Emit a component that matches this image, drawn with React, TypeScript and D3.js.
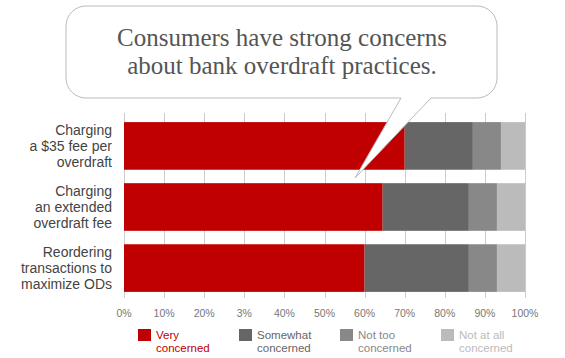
import React, { useEffect, useRef } from 'react';
import * as d3 from 'd3';

// categories (each label split in lines)
const categories = ['Charging a $35 fee per overdraft', 'Charging an extended overdraft fee', 'Reordering transactions to maximize ODs'];
const categoryLines = [
  ['Charging', 'a $35 fee per', 'overdraft'],
  ['Charging', 'an extended', 'overdraft fee'],
  ['Reordering', 'transactions to', 'maximize ODs'],
];

// series values in percent
const veryConcerned = [70, 64.5, 60];
const somewhatConcerned = [17, 21.5, 26];
const notTooConcerned = [7, 7, 7];
const notAtAllConcerned = [6, 7, 7];

const seriesNames = ['Very concerned', 'Somewhat concerned', 'Not too concerned', 'Not at all concerned'];
const legendLines = [['Very', 'concerned'], ['Somewhat', 'concerned'], ['Not too', 'concerned'], ['Not at all', 'concerned']];
const tickValues = [0, 10, 20, 30, 40, 50, 60, 70, 80, 90, 100];
const tickLabels = ['0%', '10%', '20%', '3%', '40%', '50%', '60%', '70%', '80%', '90%', '100%'];
const titleLines = ['Consumers have strong concerns', 'about bank overdraft practices.'];

const colors = ['#c00000', '#666666', '#888888', '#bbbbbb'];
const legendTextColors = ['#c00000', '#666666', '#888888', '#bbbbbb'];

export default function App() {
  const ref = useRef<SVGSVGElement>(null);

  useEffect(() => {
    const width = 565;
    const height = 358;
    const svg = d3.select(ref.current);
    svg.selectAll('*').remove();

    const x = d3.scaleLinear().domain([0, 100]).range([124, 525]);
    const y = d3.scaleBand().domain(categories).range([116, 298]).paddingInner(0.22).paddingOuter(0.1);

    // table for stacking
    const rows = categories.map((c, i) => ({
      cat: c,
      [seriesNames[0]]: veryConcerned[i],
      [seriesNames[1]]: somewhatConcerned[i],
      [seriesNames[2]]: notTooConcerned[i],
      [seriesNames[3]]: notAtAllConcerned[i],
    }));
    const stacked = d3.stack<any>().keys(seriesNames)(rows);

    // grid lines + ticks
    svg.append('g')
      .selectAll('line')
      .data(tickValues)
      .enter()
      .append('line')
      .attr('x1', (d) => Math.round(x(d)) + 0.5)
      .attr('x2', (d) => Math.round(x(d)) + 0.5)
      .attr('y1', 113)
      .attr('y2', 298)
      .attr('stroke', '#cccccc')
      .attr('stroke-width', 1);

    // bars
    const groups = svg.append('g')
      .selectAll('g')
      .data(stacked)
      .enter()
      .append('g')
      .attr('fill', (d, i) => colors[i]);
    groups.selectAll('rect')
      .data((d) => d)
      .enter()
      .append('rect')
      .attr('x', (d) => x(d[0]))
      .attr('width', (d) => x(d[1]) - x(d[0]))
      .attr('y', (d) => y(d.data.cat) as number)
      .attr('height', y.bandwidth());

    // category labels
    const labels = svg.append('g')
      .selectAll('text')
      .data(categories)
      .enter()
      .append('text')
      .attr('text-anchor', 'end')
      .attr('font-family', '"Liberation Sans", Arial, sans-serif')
      .attr('font-size', 14)
      .attr('fill', '#444444');
    labels.selectAll('tspan')
      .data((d, i) => categoryLines[i].map((t, j) => ({ t, j, cat: d })))
      .enter()
      .append('tspan')
      .attr('x', 112)
      .attr('y', (d) => (y(d.cat) as number) + y.bandwidth() / 2 + (d.j - 1) * 16 + 5)
      .text((d) => d.t);

    // tick labels
    svg.append('g')
      .selectAll('text')
      .data(tickValues)
      .enter()
      .append('text')
      .attr('x', (d) => x(d))
      .attr('y', 317)
      .attr('text-anchor', 'middle')
      .attr('font-family', '"Liberation Sans", Arial, sans-serif')
      .attr('font-size', 10.5)
      .attr('fill', '#777777')
      .text((d, i) => tickLabels[i]);

    // legend
    const legend = svg.append('g')
      .selectAll('g')
      .data(seriesNames)
      .enter()
      .append('g')
      .attr('transform', (d, i) => 'translate(' + (138 + i * 101) + ',329)');
    legend.append('rect')
      .attr('width', 13)
      .attr('height', 12)
      .attr('fill', (d, i) => colors[i]);
    const legendText = legend.append('text')
      .attr('font-family', '"Liberation Sans", Arial, sans-serif')
      .attr('font-size', 11.5)
      .attr('fill', (d, i) => legendTextColors[i]);
    legendText.selectAll('tspan')
      .data((d, i) => legendLines[i].map((t, j) => ({ t, j })))
      .enter()
      .append('tspan')
      .attr('x', 18)
      .attr('y', (d) => 10 + d.j * 13)
      .text((d) => d.t);

    // speech bubble with tail
    const bx0 = 66, bx1 = 497, by0 = 6, by1 = 98, r = 20;
    const p = d3.path();
    p.moveTo(bx0 + r, by0);
    p.lineTo(bx1 - r, by0);
    p.arcTo(bx1, by0, bx1, by0 + r, r);
    p.lineTo(bx1, by1 - r);
    p.arcTo(bx1, by1, bx1 - r, by1, r);
    p.lineTo(431, by1);
    p.lineTo(355, 178);
    p.lineTo(401, by1);
    p.lineTo(bx0 + r, by1);
    p.arcTo(bx0, by1, bx0, by1 - r, r);
    p.lineTo(bx0, by0 + r);
    p.arcTo(bx0, by0, bx0 + r, by0, r);
    p.closePath();
    svg.append('path')
      .attr('d', p.toString())
      .attr('fill', '#ffffff')
      .attr('stroke', '#bbbbbb')
      .attr('stroke-width', 1);

    svg.append('text')
      .attr('text-anchor', 'middle')
      .attr('font-family', '"Liberation Serif", "DejaVu Serif", serif')
      .attr('font-size', 25)
      .attr('fill', '#555555')
      .selectAll('tspan')
      .data(titleLines)
      .enter()
      .append('tspan')
      .attr('x', 282)
      .attr('y', (d, i) => 46 + i * 28)
      .text((d) => d);

    svg.attr('width', width).attr('height', height);
  }, []);

  return (
    <div>
      <svg ref={ref} width={565} height={358} style={{ position: 'absolute', left: 0, top: 0 }} />
    </div>
  );
}
